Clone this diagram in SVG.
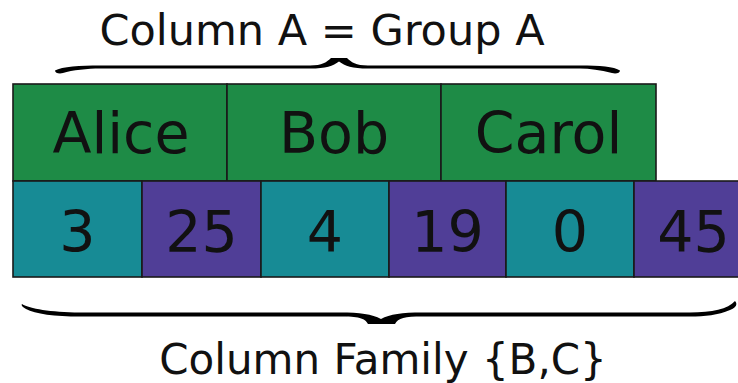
<svg xmlns="http://www.w3.org/2000/svg" width="738" height="383" viewBox="0 0 738 383">
<style>
text{font-family:"DejaVu Sans","Liberation Sans",sans-serif;fill:#111;text-anchor:middle}
.cell{stroke:#1a1a1a;stroke-width:1.6}
.g{fill:#1e8b46}
.t{fill:#178b95}
.p{fill:#503e97}
.big{font-size:57px}
.lab{font-size:43px}
.brace{fill:#000}
</style>
<rect width="738" height="383" fill="#fff"/>
<text class="lab" x="322" y="45">Column A = Group A</text>
<g id="braces">
<path class="brace" d="M55 70.5 C62 66.5 80 65.5 100 65.5 L310 65.5 C322 65.5 327 62 331 58 L347 58 C351 62 356 65.5 368 65.5 L580 65.5 C600 65.5 614 66.5 620 70.5 C620 73 616 74 612 73 C600 70 590 68.5 580 68.5 L368 68.5 C352 68.5 345 66 339 61.5 C333 66 326 68.5 310 68.5 L100 68.5 C88 68.5 72 70 63 73 C59 74 55 73 55 70.5 Z"/>
<path class="brace" d="M22 304 C30 309 50 312 80 312.5 L340 312.5 C360 312.5 372 314 381 319 C390 314 402 312.5 422 312.5 L690 312.5 C712 312.5 728 309 735 301 C738 304 736 308 730 310 C718 315 705 316.5 690 316.5 L422 316.5 C405 316.5 398 318 395 324 L368 324 C365 318 358 316.5 340 316.5 L80 316.5 C55 316.5 35 314 26 309 C22 307 21 305 22 304 Z"/>
</g>
<g id="alice"><rect class="cell g" x="13" y="84" width="214" height="97"/><text class="big" x="121" y="153">Alice</text></g>
<g id="bob"><rect class="cell g" x="227" y="84" width="214" height="97"/><text class="big" x="334" y="153">Bob</text></g>
<g id="carol"><rect class="cell g" x="441" y="84" width="215" height="97"/><text class="big" x="548.5" y="153">Carol</text></g>
<g id="b1"><rect class="cell t" x="13" y="181" width="129" height="96"/><text class="big" x="77.5" y="252">3</text></g>
<g id="c1"><rect class="cell p" x="142" y="181" width="119" height="96"/><text class="big" x="201.5" y="252">25</text></g>
<g id="b2"><rect class="cell t" x="261" y="181" width="128" height="96"/><text class="big" x="325" y="252">4</text></g>
<g id="c2"><rect class="cell p" x="389" y="181" width="117" height="96"/><text class="big" x="447.5" y="252">19</text></g>
<g id="b3"><rect class="cell t" x="506" y="181" width="128" height="96"/><text class="big" x="570" y="252">0</text></g>
<g id="c3"><rect class="cell p" x="634" y="181" width="119" height="96"/><text class="big" x="693.5" y="252">45</text></g>
<text class="lab" x="383" y="374" style="font-size:42px">Column Family {B,C}</text>
</svg>
